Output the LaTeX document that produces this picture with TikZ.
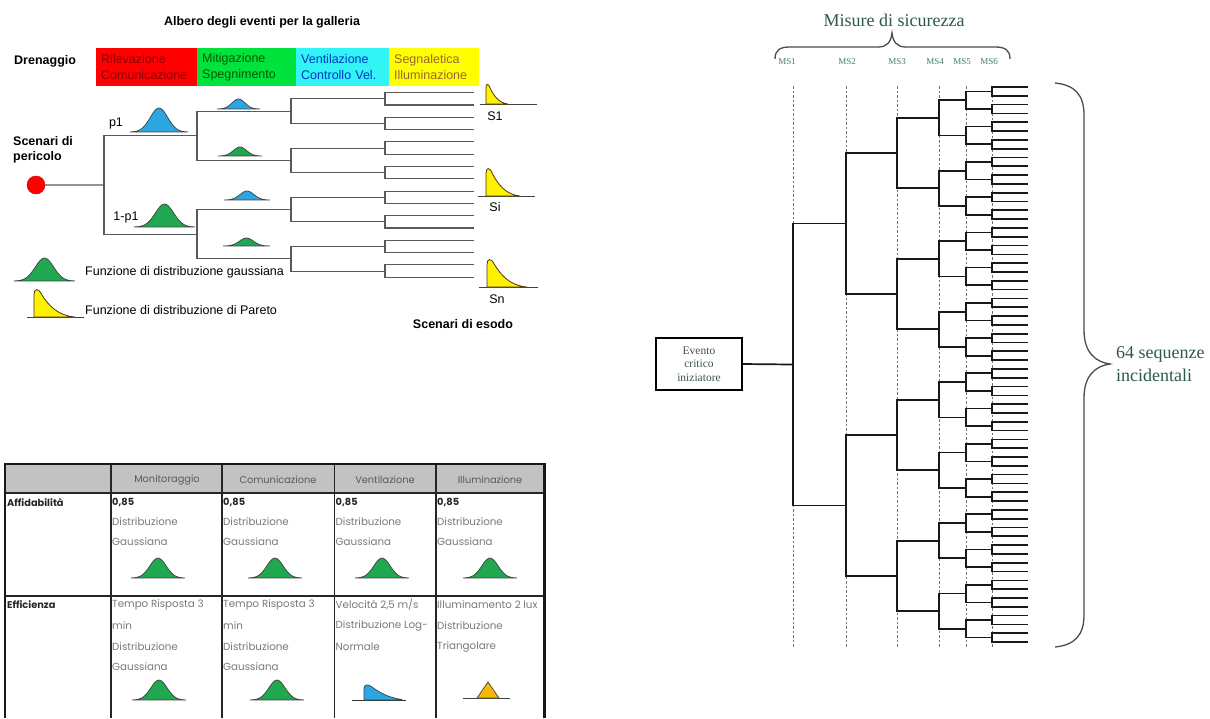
\documentclass[tikz,border=0pt]{standalone}
\usepackage{fontspec}
\setmainfont{Liberation Sans}
\newfontfamily\timesfont{Liberation Serif}
\newfontfamily\geofont{Poppins}

\definecolor{boxred}{HTML}{FF0000}
\definecolor{boxgreen}{HTML}{00E33C}
\definecolor{boxcyan}{HTML}{33F4F4}
\definecolor{boxyellow}{HTML}{FFFF00}
\definecolor{gaussgreen}{HTML}{1FA84F}
\definecolor{gaussblue}{HTML}{2BA6E3}
\definecolor{paretoyellow}{HTML}{FFF200}
\definecolor{triorange}{HTML}{F6B800}
\definecolor{treegray}{HTML}{5A5A5A}
\definecolor{serifgreen}{HTML}{2C5A48}
\definecolor{msgreen}{HTML}{3F7F6E}
\definecolor{cellgray}{HTML}{7A7A7A}
\definecolor{headgray}{HTML}{C2C2C2}

\tikzset{
  pics/gauss/.style n args={3}{code={
    \filldraw[fill=#3, draw=black!75, line width=0.7pt]
      plot[domain=-1:1, samples=41, smooth] ({#1*\x},{-#2*exp(-5.5*\x*\x)}) -- cycle;
  }},
  pics/pareto/.style n args={2}{code={
    \filldraw[fill=paretoyellow, draw=black!60!brown, line width=0.8pt]
      (0,0) -- (0,{-0.8*#1}) .. controls (0,{-1.02*#1}) and ({0.1*#2},{-1.05*#1}) ..
      ({0.18*#2},{-0.82*#1}) .. controls ({0.35*#2},{-0.4*#1}) and ({0.6*#2},{-0.04*#1}) ..
      (#2,0) -- cycle;
  }},
  ltree/.style={line width=1.1pt, treegray},
  rtree/.style={line width=1.7pt, black!90},
  msdash/.style={line width=1pt, black!55, dash pattern=on 2.5pt off 2pt},
  bracepath/.style={line width=1.3pt, black!70},
  catbox/.style={inner xsep=5pt, inner ysep=0pt, minimum height=38pt, align=left,
    font=\fontsize{12.5}{16}\selectfont, anchor=north west},
  sanslbl/.style={font=\fontsize{12.5}{15}\selectfont, inner sep=0pt},
  sansbold/.style={font=\bfseries\fontsize{12.5}{15}\selectfont, inner sep=0pt},
  celltext/.style={font=\geofont\fontsize{10.3}{12}\selectfont, text=cellgray, anchor=west, inner sep=0pt},
  cellbold/.style={font=\geofont\bfseries\fontsize{9.8}{12}\selectfont, text=black!85, anchor=west, inner sep=0pt},
  headtext/.style={font=\geofont\fontsize{9.8}{12}\selectfont, text=black!65, inner sep=0pt},
  mslbl/.style={font=\timesfont\fontsize{9}{10}\selectfont, text=msgreen, inner sep=0pt},
}

\begin{document}
\begin{tikzpicture}[x=1pt, y=-1pt]
\useasboundingbox[fill=white] (0,0) rectangle (1210,718);

% ---------------- event tree for the tunnel ----------------
\node[sansbold] (title) at (262,22) {Albero degli eventi per la galleria};
\node[sansbold, anchor=west] (dren) at (14,61) {Drenaggio};

\node[catbox, fill=boxred, text=red!55!black, text width=91pt] (cat1) at (96,48) {Rilevazione\\Comunicazione};
\node[catbox, fill=boxgreen, text=green!35!black, text width=89pt] (cat2) at (197,48) {Mitigazione\\Spegnimento};
\node[catbox, fill=boxcyan, text=blue!75!cyan!80!black, text width=83pt] (cat3) at (296,48) {Ventilazione\\Controllo Vel.};
\node[catbox, fill=boxyellow, text=brown!80!black, text width=80pt] (cat4) at (389,48) {Segnaletica\\Illuminazione};

% branch points of the binary tree (16 outcomes)
\foreach \lv/\xb in {0/104,1/197,2/291,3/385,4/474} {
  \pgfmathtruncatemacro\nmax{2^\lv-1}
  \pgfmathtruncatemacro\lspan{2^(4-\lv)}
  \foreach \ii in {0,...,\nmax} {
    \pgfmathsetmacro\yy{92.7+12.3*((\ii+0.5)*\lspan-0.5)}
    \coordinate (l-\lv-\ii) at (\xb,\yy);
  }
}
\foreach \lv in {0,...,3} {
  \pgfmathtruncatemacro\nmax{2^\lv-1}
  \pgfmathtruncatemacro\lnext{\lv+1}
  \foreach \ii in {0,...,\nmax} {
    \pgfmathtruncatemacro\ka{2*\ii}
    \pgfmathtruncatemacro\kb{2*\ii+1}
    \draw[ltree] (l-\lv-\ii) |- (l-\lnext-\ka);
    \draw[ltree] (l-\lv-\ii) |- (l-\lnext-\kb);
  }
}
\node[circle, fill=red, draw=red!80!black, minimum size=18pt, inner sep=0pt] (haz) at (36,185) {};
\draw[ltree] (haz) -- (l-0-0);

\node[sansbold, anchor=west, align=left] (peri) at (13,150) {Scenari di\\pericolo};
\node[sanslbl] (p1) at (116,123) {p1};
\node[sanslbl] (p1c) at (126,217) {1-p1};

\pic at (159,132) {gauss={29}{24}{gaussblue}};
\pic at (164.5,227) {gauss={30.5}{23}{gaussgreen}};
\pic at (238.5,109) {gauss={21.5}{10}{gaussblue}};
\pic at (240,156) {gauss={22}{9}{gaussgreen}};
\pic at (247,200) {gauss={23}{9}{gaussblue}};
\pic at (246.5,246) {gauss={23.5}{8}{gaussgreen}};

% exit scenarios
\draw[line width=1pt, black!75] (480,104) -- (537,104);
\pic at (486,104) {pareto={20}{22}};
\draw[line width=1pt, black!75] (478,196) -- (535,196);
\pic at (486,196) {pareto={28}{34}};
\draw[line width=1pt, black!75] (479,287) -- (538,287);
\pic at (487,287) {pareto={28}{40}};
\node[sanslbl] (s1) at (495,116) {S1};
\node[sanslbl] (si) at (495,207) {Si};
\node[sanslbl] (sn) at (497,299) {Sn};
\node[sansbold] (esodo) at (463,324) {Scenari di esodo};

% legend
\pic at (44.5,281) {gauss={30.5}{23}{gaussgreen}};
\node[sanslbl, anchor=west] (leg1) at (85,272) {Funzione di distribuzione gaussiana};
\draw[line width=1pt, black!75] (27,317) -- (84,317);
\pic at (34,317) {pareto={28}{41}};
\node[sanslbl, anchor=west] (leg2) at (85,310) {Funzione di distribuzione di Pareto};

% ---------------- reliability / efficiency table ----------------
\fill[headgray] (5,464) rectangle (544.5,493);
\foreach \xc in {111,222,334.5,436}
  \draw[line width=1.3pt, black!85] (\xc,464) -- (\xc,718);
\draw[line width=1.3pt, black!85] (5,493) -- (544.5,493);
\draw[line width=1.3pt, black!85] (5,596) -- (544.5,596);
\draw[line width=2.2pt, black!90] (5,718) -- (5,464) -- (544.5,464) -- (544.5,718);

\node[headtext] (h1) at (167,480) {Monitoraggio};
\node[headtext] (h2) at (278,480) {Comunicazione};
\node[headtext] (h3) at (385,480) {Ventilazione};
\node[headtext] (h4) at (490,480) {Illuminazione};

\node[cellbold] (affid) at (7,502) {Affidabilità};
\node[cellbold] (effic) at (7,605) {Efficienza};

\foreach \xc/\gc [count=\cc] in {112/158,223/275,335.5/382,437/490} {
  \node[cellbold] (rel-\cc) at (\xc,502) {0,85};
  \node[celltext] (reld-\cc) at (\xc,522) {Distribuzione};
  \node[celltext] (relg-\cc) at (\xc,542) {Gaussiana};
  \pic at (\gc,578) {gauss={27}{20}{gaussgreen}};
}

\foreach \xc/\gc [count=\cc] in {112/159,223/277} {
  \node[celltext] (eff-a-\cc) at (\xc,605) {Tempo Risposta 3};
  \node[celltext] (eff-b-\cc) at (\xc,626) {min};
  \node[celltext] (eff-c-\cc) at (\xc,647) {Distribuzione};
  \node[celltext] (eff-d-\cc) at (\xc,667) {Gaussiana};
  \pic at (\gc,700) {gauss={27}{20}{gaussgreen}};
}

\node[celltext] (vel-a) at (335.5,605) {Velocità 2,5 m/s};
\node[celltext] (vel-b) at (335.5,626) {Distribuzione Log-};
\node[celltext] (vel-c) at (335.5,647) {Normale};
\draw[line width=1pt, black!80] (352,700) -- (406,700);
\filldraw[fill=gaussblue, draw=black!75, line width=0.7pt]
  (364,700) -- (364,688) .. controls (365,684) and (368,684) .. (372,687)
  .. controls (380,693) and (390,698) .. (402,699.5) -- (402,700) -- cycle;

\begin{scope}
  \clip (436,596) rectangle (543.5,616);
  \node[celltext] (ill-a) at (437,605) {Illuminamento 2 lux};
\end{scope}
\node[celltext] (ill-b) at (437,626) {Distribuzione};
\node[celltext] (ill-c) at (437,647) {Triangolare};
\draw[line width=1pt, black!75] (463,698.5) -- (510,698.5);
\filldraw[fill=triorange, draw=black!70, line width=0.8pt] (477,698) -- (488,682) -- (499,698) -- cycle;

% ---------------- safety measures tree (64 sequences) ----------------
\node[font=\timesfont\fontsize{18}{22}\selectfont, text=serifgreen, inner sep=0pt] (misure) at (894,20) {Misure di sicurezza};
\draw[bracepath] (775,59) .. controls (775,50) and (780,47) .. (790,47) -- (878,47)
  .. controls (887,47) and (891,42) .. (892,33) .. controls (893,42) and (897,47) .. (906,47)
  -- (995,47) .. controls (1005,47) and (1010,50) .. (1010,59);

\foreach \xm/\lx [count=\cc] in {793/787,846/847,897/897,939/935,966/962,992/989} {
  \node[mslbl] (ms-\cc) at (\lx,62) {MS\cc};
  \draw[msdash] (\xm,86) -- (\xm,648);
}

\foreach \lv/\xb in {0/793,1/846,2/897,3/939,4/966,5/992,6/1028} {
  \pgfmathtruncatemacro\nmax{2^\lv-1}
  \pgfmathtruncatemacro\lspan{2^(6-\lv)}
  \foreach \ii in {0,...,\nmax} {
    \pgfmathsetmacro\yy{87+8.81*((\ii+0.5)*\lspan-0.5)}
    \coordinate (r-\lv-\ii) at (\xb,\yy);
  }
}
\foreach \lv in {0,...,5} {
  \pgfmathtruncatemacro\nmax{2^\lv-1}
  \pgfmathtruncatemacro\lnext{\lv+1}
  \foreach \ii in {0,...,\nmax} {
    \pgfmathtruncatemacro\ka{2*\ii}
    \pgfmathtruncatemacro\kb{2*\ii+1}
    \draw[rtree] (r-\lv-\ii) |- (r-\lnext-\ka);
    \draw[rtree] (r-\lv-\ii) |- (r-\lnext-\kb);
  }
}

\node[draw=black, line width=1.6pt, fill=white, minimum width=86pt, minimum height=52pt,
  align=center, inner sep=0pt, text=serifgreen!60!black!85,
  font=\timesfont\fontsize{11.5}{13.5}\selectfont] (evento) at (699,364) {Evento\\critico\\iniziatore};
\draw[rtree] (evento.east) -- (r-0-0);

\draw[bracepath] (1055,83) .. controls (1075,85) and (1084,95) .. (1084,115) -- (1084,330)
  .. controls (1084,352) and (1095,362) .. (1110,364)
  .. controls (1095,366) and (1084,376) .. (1084,398) -- (1084,615)
  .. controls (1084,635) and (1075,645) .. (1055,647);
\node[anchor=west, align=left, inner sep=0pt, text=serifgreen,
  font=\timesfont\fontsize{18}{23}\selectfont] (seq) at (1116,364) {64 sequenze\\incidentali};

\end{tikzpicture}
\end{document}
